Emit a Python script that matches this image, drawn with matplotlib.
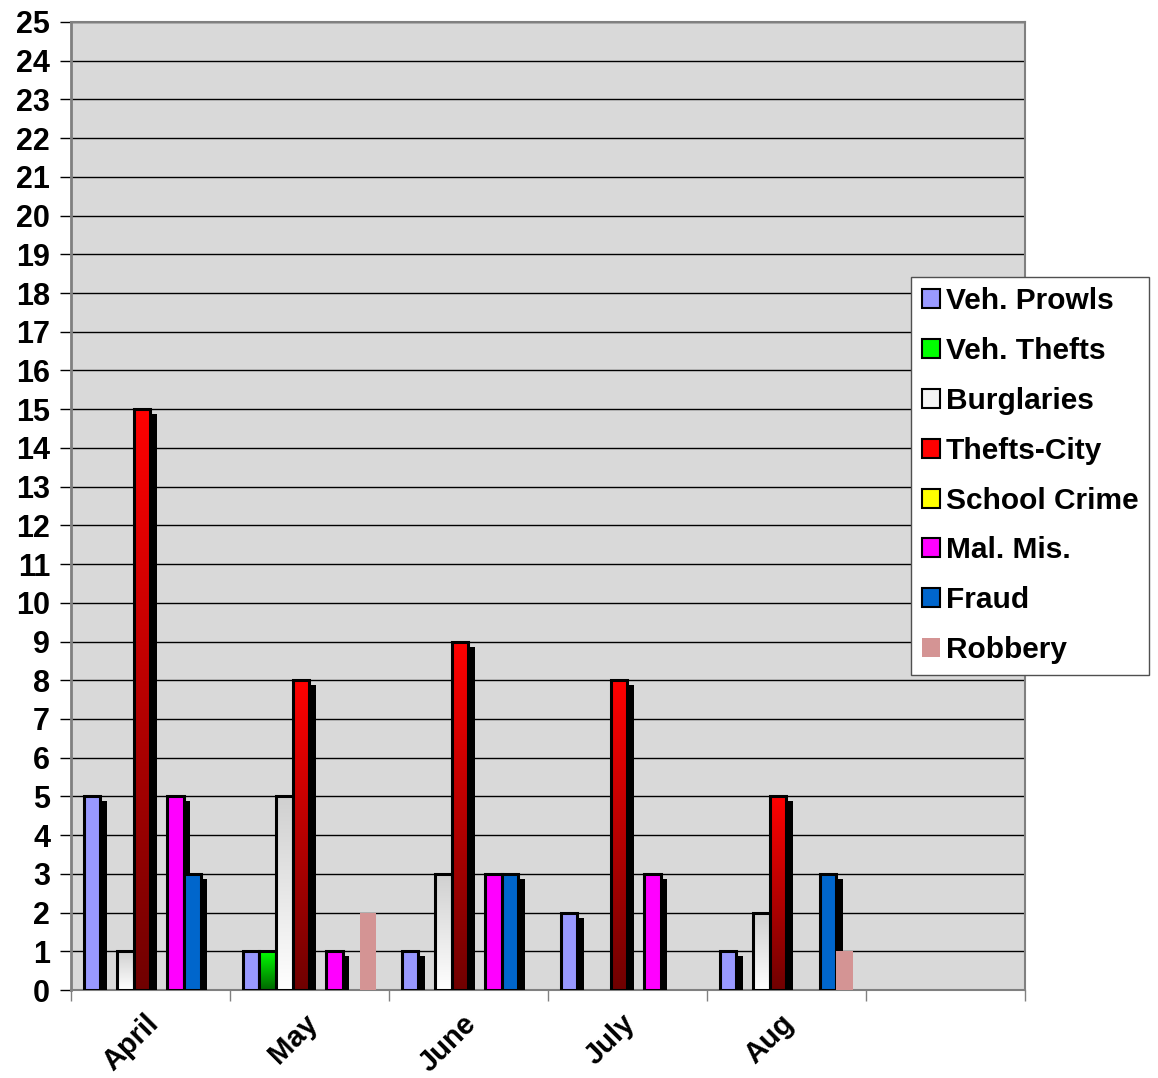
import numpy as np
import matplotlib
matplotlib.use('Agg')
import matplotlib.pyplot as plt
from matplotlib.patches import Rectangle
from matplotlib.transforms import ScaledTranslation
from matplotlib.colors import LinearSegmentedColormap

plt.rcParams['font.family'] = ['Liberation Sans', 'DejaVu Sans']
plt.rcParams['font.weight'] = 'bold'

months = ['April', 'May', 'June', 'July', 'Aug', '']
series = ['Veh. Prowls', 'Veh. Thefts', 'Burglaries', 'Thefts-City',
          'School Crime', 'Mal. Mis.', 'Fraud', 'Robbery']
veh_prowls = [5, 1, 1, 2, 1, 0]
veh_thefts = [0, 1, 0, 0, 0, 0]
burglaries = [1, 5, 3, 0, 2, 0]
thefts_city = [15, 8, 9, 8, 5, 0]
school_crime = [0, 0, 0, 0, 0, 0]
mal_mis = [5, 1, 3, 3, 0, 0]
fraud = [3, 0, 3, 0, 3, 0]
robbery = [0, 2, 0, 0, 1, 0]
values = [veh_prowls, veh_thefts, burglaries, thefts_city,
          school_crime, mal_mis, fraud, robbery]

colors = ['#9999FF', '#00DD00', '#FFFFFF', '#FF0000',
          '#FFFF00', '#FF00FF', '#0066CC', '#D49494']
# (top colour, bottom colour) for gradient-filled series
gradients = {1: ('#00FF00', '#006600'),
             2: ('#D0D0D0', '#FFFFFF'),
             3: ('#FF0000', '#700000')}

fig = plt.figure(figsize=(11.58, 10.78), dpi=100)
ax = fig.add_axes([0.0613, 0.0816, 0.8237, 0.898])
ax.set_facecolor('#D9D9D9')
ax.set_xlim(0, 6)
ax.set_ylim(0, 25)

bw = 0.105
start = 0.08
shadow = ax.transData + ScaledTranslation(6.5 / 100, -5 / 100, fig.dpi_scale_trans)

for i, (name, vals) in enumerate(zip(series, values)):
    z = 3 + i * 0.1
    edge = 'none' if name == 'Robbery' else 'black'
    for j, v in enumerate(vals):
        if v <= 0:
            continue
        x0 = j + start + i * bw
        if name != 'Robbery':
            ax.add_patch(Rectangle((x0, 0), bw, v, facecolor='black',
                                   edgecolor='none', transform=shadow, zorder=z))
        if i in gradients:
            top, bot = gradients[i]
            cmap = LinearSegmentedColormap.from_list('g', [bot, top])
            rect = Rectangle((x0, 0), bw, v, facecolor='none', edgecolor='none',
                             zorder=z + 0.01)
            ax.add_patch(rect)
            im = ax.imshow(np.linspace(0, 1, 256).reshape(-1, 1), cmap=cmap,
                           origin='lower', extent=[x0, x0 + bw, 0, v],
                           aspect='auto', zorder=z + 0.02)
            im.set_clip_path(rect)
            ax.add_patch(Rectangle((x0, 0), bw, v, facecolor='none',
                                   edgecolor=edge, linewidth=2.2, zorder=z + 0.03))
        else:
            ax.add_patch(Rectangle((x0, 0), bw, v, facecolor=colors[i],
                                   edgecolor=edge, linewidth=2.2, zorder=z + 0.03))

ax.set_xlim(0, 6)
ax.set_ylim(0, 25)
ax.set_aspect('auto')

ax.set_yticks(range(0, 26))
ax.yaxis.grid(True, color='black', linewidth=1)
ax.set_axisbelow(True)
ax.tick_params(axis='y', length=8, width=1, pad=7, labelsize=22, color='black')
for lab in ax.get_yticklabels():
    lab.set_fontweight('bold')

ax.set_xticks(range(0, 7))
ax.set_xticklabels([])
ax.tick_params(axis='x', length=8, width=1, color='#808080')
for j, m in enumerate(months):
    if m:
        ax.text(j + 0.46, -0.5, m, rotation=45, ha='right', va='top',
                rotation_mode='anchor', fontsize=21, fontweight='bold')

for side in ['top', 'right', 'bottom']:
    ax.spines[side].set_color('#808080')
    ax.spines[side].set_linewidth(1.5)
ax.spines['left'].set_color('#808080')
ax.spines['left'].set_linewidth(2)

handles = []
for i, name in enumerate(series):
    fc = gradients[i][0] if i in gradients else colors[i]
    if i == 2:
        fc = '#F4F4F4'
    ec = 'none' if name == 'Robbery' else 'black'
    handles.append(Rectangle((0, 0), 1, 1, facecolor=fc, edgecolor=ec, linewidth=1.5))
leg = fig.legend(handles, series, loc='upper left', bbox_to_anchor=(0.787, 0.743),
                 frameon=True, fancybox=False, fontsize=21.5, handlelength=0.6,
                 handleheight=0.6, handletextpad=0.2, labelspacing=0.73,
                 borderpad=0.35, borderaxespad=0, framealpha=1)
leg.get_frame().set_edgecolor('#505050')
leg.get_frame().set_linewidth(1)
for t in leg.get_texts():
    t.set_fontweight('bold')

fig.savefig('out.png', dpi=100)
